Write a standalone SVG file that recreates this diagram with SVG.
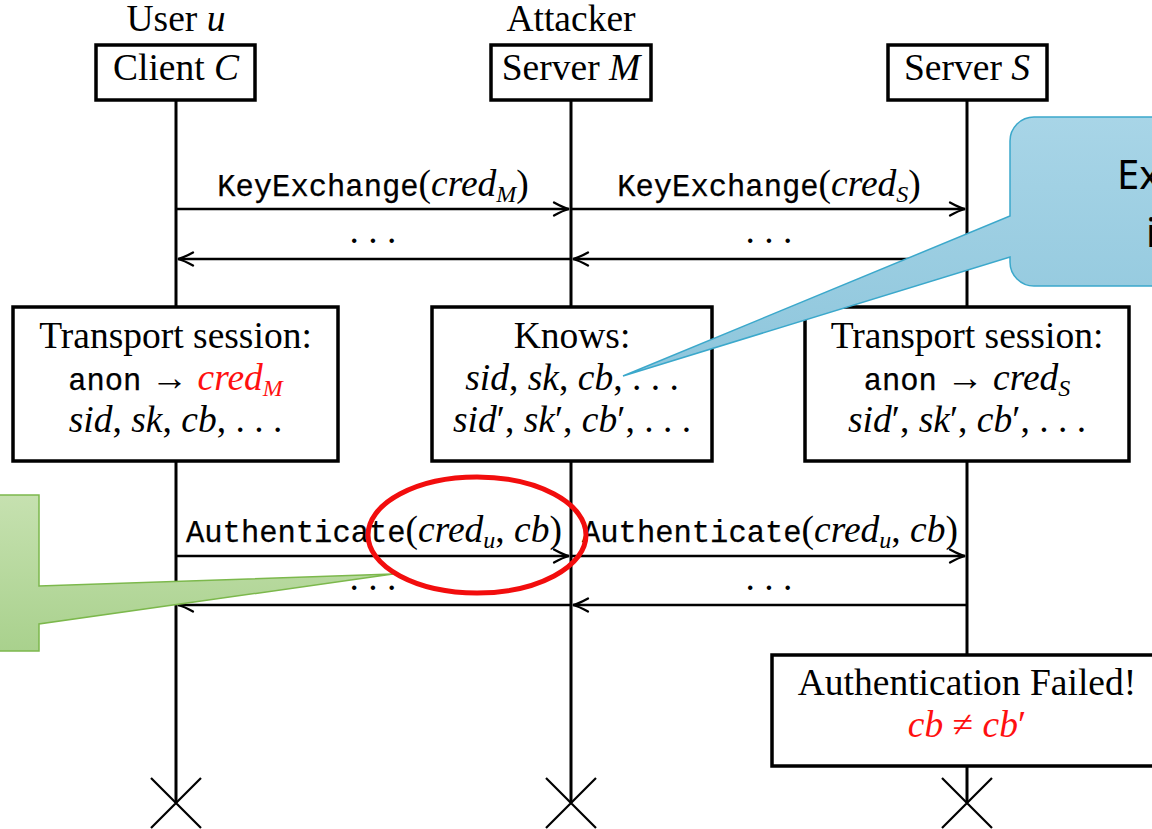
<svg xmlns="http://www.w3.org/2000/svg" width="1152" height="829" viewBox="0 0 1152 829">
  <style>
    .rm { font-family: "Liberation Serif", "DejaVu Serif", serif; font-size: 37.5px; fill: #000; }
    .it { font-style: italic; }
    .tt { font-family: "Liberation Mono", "DejaVu Sans Mono", monospace; font-size: 30.5px; stroke: #000; stroke-width: 0.25; }
    .sub { font-size: 24px; }
    .red { fill: #ff1010; }
    .life { stroke: #000; stroke-width: 3; fill: none; }
    .box { stroke: #000; stroke-width: 3.5; fill: #fff; }
    .msg { stroke: #000; stroke-width: 2.5; fill: none; marker-end: url(#head); }
    .kill { stroke: #000; stroke-width: 2.2; }
    .note { font-family: "Noto Sans", "Open Sans", sans-serif; font-size: 40px; fill: #000; }
  </style>
  <defs>
    <marker id="head" markerUnits="userSpaceOnUse" viewBox="-17 -9 19 18" refX="0" refY="0" markerWidth="19" markerHeight="18" orient="auto" overflow="visible">
      <path d="M -15 -6.5 Q -6 -1.5 0 0 Q -6 1.5 -15 6.5" fill="none" stroke="#000" stroke-width="2.3" stroke-linecap="round"/>
    </marker>
    <linearGradient id="blueFill" x1="0" y1="0" x2="0" y2="1">
      <stop offset="0" stop-color="#a8d5e7"/>
      <stop offset="1" stop-color="#8ec6dc"/>
    </linearGradient>
    <linearGradient id="greenFill" x1="0" y1="0" x2="0" y2="1">
      <stop offset="0" stop-color="#c6e1b0"/>
      <stop offset="1" stop-color="#a9d18d"/>
    </linearGradient>
  </defs>

  <!-- lifelines and termination marks -->
  <g id="lifelines">
    <line class="life" x1="176" y1="100" x2="176" y2="803"/>
    <line class="life" x1="571" y1="100" x2="571" y2="803"/>
    <line class="life" x1="967" y1="100" x2="967" y2="803"/>
    <path class="kill" d="M151 778 L201 828 M201 778 L151 828"/>
    <path class="kill" d="M546 778 L596 828 M596 778 L546 828"/>
    <path class="kill" d="M942 778 L992 828 M992 778 L942 828"/>
  </g>

  <!-- participant headers -->
  <g id="client">
    <text class="rm" x="176" y="31" text-anchor="middle">User <tspan class="it">u</tspan></text>
    <rect class="box" x="96" y="45" width="159" height="55"/>
    <text class="rm" x="176" y="80" text-anchor="middle">Client <tspan class="it">C</tspan></text>
  </g>
  <g id="attacker">
    <text class="rm" x="571" y="31" text-anchor="middle">Attacker</text>
    <rect class="box" x="491" y="45" width="160" height="55"/>
    <text class="rm" x="571" y="80" text-anchor="middle">Server <tspan class="it">M</tspan></text>
  </g>
  <g id="server">
    <rect class="box" x="888" y="45" width="159" height="55"/>
    <text class="rm" x="967" y="80" text-anchor="middle">Server <tspan class="it">S</tspan></text>
  </g>

  <!-- messages -->
  <g id="connectors">
    <line class="msg" x1="176" y1="209" x2="569" y2="209"/>
    <line class="msg" x1="571" y1="209" x2="965" y2="209"/>
    <line class="msg" x1="967" y1="259" x2="573" y2="259"/>
    <line class="msg" x1="571" y1="259" x2="178" y2="259"/>
    <line class="msg" x1="176" y1="556" x2="569" y2="556"/>
    <line class="msg" x1="571" y1="556" x2="965" y2="556"/>
    <line class="msg" x1="967" y1="605" x2="573" y2="605"/>
    <line class="msg" x1="571" y1="605" x2="178" y2="605"/>

    <text class="rm" x="373" y="196" text-anchor="middle"><tspan class="tt">KeyExchange</tspan>(<tspan class="it">cred</tspan><tspan class="it sub" dy="6">M</tspan><tspan dy="-6">)</tspan></text>
    <text class="rm" x="769" y="196" text-anchor="middle"><tspan class="tt">KeyExchange</tspan>(<tspan class="it">cred</tspan><tspan class="it sub" dy="6">S</tspan><tspan dy="-6">)</tspan></text>
    <text class="rm" x="373" y="243" text-anchor="middle">. . .</text>
    <text class="rm" x="769" y="243" text-anchor="middle">. . .</text>

    <text class="rm" x="374" y="542" text-anchor="middle"><tspan class="tt">Authenticate</tspan>(<tspan class="it">cred</tspan><tspan class="it sub" dy="6">u</tspan><tspan dy="-6">, </tspan><tspan class="it">cb</tspan>)</text>
    <text class="rm" x="770" y="542" text-anchor="middle"><tspan class="tt">Authenticate</tspan>(<tspan class="it">cred</tspan><tspan class="it sub" dy="6">u</tspan><tspan dy="-6">, </tspan><tspan class="it">cb</tspan>)</text>
    <text class="rm" x="373" y="590" text-anchor="middle">. . .</text>
    <text class="rm" x="769" y="590" text-anchor="middle">. . .</text>
  </g>

  <!-- session state boxes -->
  <g id="client-session">
    <rect class="box" x="13" y="307" width="325" height="154"/>
    <text class="rm" x="175.5" y="348" text-anchor="middle">Transport session:</text>
    <text class="rm" x="175.5" y="390" text-anchor="middle"><tspan class="tt">anon</tspan> → <tspan class="it red">cred</tspan><tspan class="it sub red" dy="6">M</tspan></text>
    <text class="rm" x="175.5" y="432" text-anchor="middle"><tspan class="it">sid</tspan>, <tspan class="it">sk</tspan>, <tspan class="it">cb</tspan>, . . .</text>
  </g>
  <g id="attacker-knows">
    <rect class="box" x="432" y="307" width="280" height="154"/>
    <text class="rm" x="572" y="348" text-anchor="middle">Knows:</text>
    <text class="rm" x="572" y="390" text-anchor="middle"><tspan class="it">sid</tspan>, <tspan class="it">sk</tspan>, <tspan class="it">cb</tspan>, . . .</text>
    <text class="rm" x="572" y="432" text-anchor="middle"><tspan class="it">sid</tspan>′, <tspan class="it">sk</tspan>′, <tspan class="it">cb</tspan>′, . . .</text>
  </g>
  <g id="server-session">
    <rect class="box" x="805" y="307" width="324" height="154"/>
    <text class="rm" x="967" y="348" text-anchor="middle">Transport session:</text>
    <text class="rm" x="967" y="390" text-anchor="middle"><tspan class="tt">anon</tspan> → <tspan class="it">cred</tspan><tspan class="it sub" dy="6">S</tspan></text>
    <text class="rm" x="967" y="432" text-anchor="middle"><tspan class="it">sid</tspan>′, <tspan class="it">sk</tspan>′, <tspan class="it">cb</tspan>′, . . .</text>
  </g>
  <g id="auth-failed">
    <rect class="box" x="772" y="655" width="390" height="111"/>
    <text class="rm" x="967" y="695" text-anchor="middle">Authentication Failed!</text>
    <text class="rm red" x="967" y="737" text-anchor="middle"><tspan class="it">cb</tspan> ≠ <tspan class="it">cb</tspan>′</text>
  </g>

  <!-- callouts -->
  <g id="callout-green">
    <path d="M -10 495 L 39 495 L 39 586 L 393 574 L 39 624 L 39 651 L -10 651 Z" fill="url(#greenFill)" stroke="#7cb84c" stroke-width="1.5"/>
  </g>
  <g id="callout-blue">
    <path d="M 1034 117 L 1300 117 L 1300 286 L 1034 286 A 24 24 0 0 1 1010 262 L 1010 257 L 623 376 L 1010 216 L 1010 141 A 24 24 0 0 1 1034 117 Z" fill="url(#blueFill)" stroke="#3ba8cb" stroke-width="1.5"/>
    <text class="note" x="1117" y="189">Ex</text>
    <text class="note" x="1146" y="247">i</text>
  </g>

  <!-- highlight ring -->
  <g id="highlight">
    <ellipse cx="477" cy="535" rx="109" ry="58" fill="none" stroke="#f20d0d" stroke-width="5"/>
  </g>
</svg>
